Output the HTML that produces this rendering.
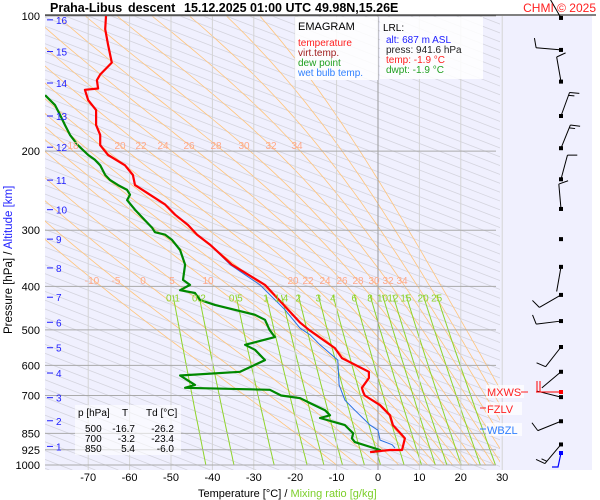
<!DOCTYPE html>
<html><head><meta charset="utf-8"><style>
html,body{margin:0;padding:0;background:#fff;}
svg{display:block;font-family:"Liberation Sans",sans-serif;}
</style></head><body>
<svg id="chart" width="600" height="500" viewBox="0 0 600 500">
<defs><clipPath id="plotclip"><rect x="45" y="16" width="455" height="454"/></clipPath></defs>
<rect x="45" y="16" width="547" height="454" fill="#f0f0fe"/>
<g id="bg" clip-path="url(#plotclip)"></g>
<g id="grid"></g>
<g id="series" clip-path="url(#plotclip)"></g>
<g id="labels"></g>
<g id="winds"></g>
<line x1="45" y1="15" x2="596" y2="15" stroke="#000" stroke-width="1"/>
<g font-size="12.5" font-weight="bold">
<text x="50" y="12">Praha-Libus</text>
<text x="128" y="12">descent</text>
<text x="184" y="12">15.12.2025 01:00 UTC</text>
<text x="315" y="12">49.98N,15.26E</text>
</g>
<text x="596" y="12" font-size="12" fill="#ff2020" text-anchor="end">CHMI © 2025</text>
<g>
<rect x="295" y="17" width="83" height="63" fill="#fff" fill-opacity="0.85"/>
<text x="298" y="30" font-size="11">EMAGRAM</text>
<text x="298" y="46" font-size="10" fill="#ff2020">temperature</text>
<text x="298" y="56" font-size="10" fill="#a02020">virt.temp.</text>
<text x="298" y="66" font-size="10" fill="#20a020">dew point</text>
<text x="298" y="76" font-size="10" fill="#3080ff">wet bulb temp.</text>
</g>
<g>
<rect x="380" y="17" width="103" height="62" fill="#fff" fill-opacity="0.85"/>
<text x="383" y="31" font-size="10">LRL:</text>
<text x="386" y="43" font-size="10" fill="#2020ff">alt: 687 m ASL</text>
<text x="386" y="53" font-size="10" fill="#222">press: 941.6 hPa</text>
<text x="386" y="63" font-size="10" fill="#ff2020">temp: -1.9 °C</text>
<text x="386" y="73" font-size="10" fill="#20a020">dwpt: -1.9 °C</text>
</g>
<g font-size="10">
<rect x="75" y="405" width="106" height="50" fill="#fff" fill-opacity="0.6"/>
<text x="78" y="416">p [hPa]</text><text x="122" y="416">T</text><text x="146" y="416">Td [°C]</text>
<text x="85" y="432">500</text><text x="135" y="432" text-anchor="end">-16.7</text><text x="174" y="432" text-anchor="end">-26.2</text>
<text x="85" y="442">700</text><text x="135" y="442" text-anchor="end">-3.2</text><text x="174" y="442" text-anchor="end">-23.4</text>
<text x="85" y="452">850</text><text x="135" y="452" text-anchor="end">5.4</text><text x="174" y="452" text-anchor="end">-6.0</text>
</g>
<g>
<rect x="486" y="385" width="38" height="13" fill="#fff" fill-opacity="0.7"/>
<text x="487" y="396" font-size="11" fill="#ff2020">MXWS</text>
<line x1="521" y1="392" x2="528" y2="392" stroke="#ff2020"/>
<rect x="486" y="402" width="36" height="13" fill="#fff" fill-opacity="0.7"/>
<line x1="480" y1="408" x2="486" y2="408" stroke="#ff2020"/>
<text x="487" y="413" font-size="11" fill="#ff2020">FZLV</text>
<rect x="486" y="423" width="36" height="13" fill="#fff" fill-opacity="0.7"/>
<line x1="480" y1="429" x2="486" y2="429" stroke="#3080ff"/>
<text x="487" y="434" font-size="11" fill="#3080ff">WBZL</text>
</g>
<text x="198" y="497" font-size="11">Temperature [°C]  /  <tspan fill="#7ccf2a">Mixing ratio [g/kg]</tspan></text>
<text transform="translate(12,334) rotate(-90)" font-size="11.5">Pressure [hPa]  /  <tspan fill="#2020ff">Altitude [km]</tspan></text>
</svg>
<script>
// ---- data ----
const tempP = [100,107,116,127,135,139,145,146,154,162,175,184,194,204,215,226,238,250,263,277,292,307,323,358,397,482,500,549,578,620,640,673,687,700,736,775,815,850,872,912,926,926,936];
const tempT = [-65.7,-65.9,-65.2,-64.3,-67.1,-67.9,-67.6,-70.8,-70,-68.1,-68.1,-67.1,-67.1,-65.2,-61.1,-59.2,-58.7,-55.1,-51.4,-49,-45.9,-43.7,-40.6,-35.3,-27.3,-18.8,-16.7,-10.4,-8.7,-2.2,-2.2,-3.9,-3.6,-3.2,0.5,2.9,3.6,5.4,6.5,6,5.8,2.9,-1.9];
const dewP = [150,154,158,166,175,184,194,204,209,215,226,232,238,244,250,257,270,285,296,303,307,315,332,358,387,397,408,414,429,440,463,475,500,519,540,554,584,620,632,663,673,680,700,710,728,755,775,786,815,850,872,889,926,936];
const dewT = [-80.4,-79.2,-78,-76.8,-75.6,-74.4,-72.5,-70,-68.4,-67.1,-65.9,-64.7,-62.8,-60.6,-59.9,-60.6,-58.7,-56.3,-54.6,-53.9,-51.4,-49.8,-47.8,-46.6,-47.1,-45.4,-47.8,-44.2,-43,-39.4,-29.7,-27.3,-26.2,-24.9,-32.1,-29.7,-27.3,-33.3,-47.8,-44.2,-46.6,-26.1,-23.4,-18.8,-16.4,-12.8,-11.6,-14,-8,-6,-6.3,-5.6,0.5,-1.4];
const wbP = [307,323,358,397,451,496,513,540,584,663,717,755,815,837,880,901,917];
const wbT = [-43.7,-40.6,-35.7,-28.5,-22.5,-18.8,-16.4,-14,-9.7,-9.4,-8,-5.6,-1.9,0,0.5,3.4,4.1];
const pressureTicks = [100,200,300,400,500,600,700,850,925,1000];
const tempTicks = [-70,-60,-50,-40,-30,-20,-10,0,10,20,30];
const altTicks = [16,15,14,13,12,11,10,9,8,7,6,5,4,3,2,1];
const altP = [102,120,141,167,196,232,270,314,364,423,481,548,624,708,797,909];
const mixRatios = [0.1,0.2,0.5,1,1.4,2,3,4,6,8,10,12,15,20,25];
const moistThetaW = [-10,-5,0,5,10,12,14,16,18,20,22,24,26,28,30,32,34,36,38,40];
const windP = [101,119,140,167,197,231,269,314,362,418,478,546,620,706,799,900];
const windDir = [330,275,350,20,22,15,355,0,190,240,263,218,230,284,248,220];
const windBarbs = [1,1,1,1.5,1.5,1,1,0,0,1,1,1,0,0,1,1.5];

// ---- axes ----
const X = t => 378 + t*4.14;
const Y = p => 16 + 195*Math.log(p/100);
const NS = 'http://www.w3.org/2000/svg';
function mk(tag, attrs, parent){const e=document.createElementNS(NS,tag);for(const k in attrs)e.setAttribute(k,attrs[k]);parent.appendChild(e);return e;}
const bg=document.getElementById('bg'), grid=document.getElementById('grid'), series=document.getElementById('series'), labels=document.getElementById('labels'), winds=document.getElementById('winds');

// background diagonal guide lines (gray)
for(let x0=-1200; x0<=520; x0+=23){
  const e=mk('line',{x1:x0,y1:16,x2:x0+2.6*454,y2:470,stroke:'#d4d4de','stroke-width':0.8},bg);
  
  
}
// moist adiabats
function es(tc){return 6.112*Math.exp(17.67*tc/(tc+243.5));}
moistThetaW.forEach(t0=>{
  let T=t0+273.15, d='';
  for(let p=1000;p>=100;p-=5){
    d+=(d?'L':'M')+X(T-273.15).toFixed(1)+','+Y(p).toFixed(1);
    const e=es(T-273.15), rs=0.622*e/(p-e);
    const dTdp=(287*T+2.5e6*rs)/(1005+2.5e6*2.5e6*rs*0.622/(287*T*T))/p;
    T-=dTdp*5;
  }
  const el=mk('path',{d:d,fill:'none',stroke:'#ffc47a','stroke-width':0.8},bg);
  
  
});
// mixing ratio lines
mixRatios.forEach(w=>{
  let d='';
  for(let p=418;p<=1000;p+=20){const e=w*p/(622+w);const l=Math.log(e/6.112);const t=243.5*l/(17.67-l);d+=(d?'L':'M')+X(t).toFixed(1)+','+Y(p).toFixed(1);}
  const el=mk('path',{d:d,fill:'none',stroke:'#8fd42a','stroke-width':1},bg);
  
  
  const e=w*418/(622+w);const l=Math.log(e/6.112);const t=243.5*l/(17.67-l);
  const tx=mk('text',{x:X(t),y:Y(400)+15,'font-size':10,fill:'#8fd42a','text-anchor':'middle'},labels);
  tx.textContent=String(w);
  
  
});
// moist adiabat labels (approximate positions)
const maLab1=[['-10',92],['-5',116],['0',143],['5',172],['10',208],['20',293],['22',308],['24',325],['26',342],['28',358],['30',374],['32',388],['34',402]];
maLab1.forEach(a=>{const t=mk('text',{x:a[1],y:284,'font-size':10,fill:'#ffa888','text-anchor':'middle'},labels);t.textContent=a[0];
  
  });
const maLab2=[['18',73],['20',120],['22',141],['24',163],['26',189],['28',216],['30',244],['32',271],['34',297]];
maLab2.forEach(a=>{const t=mk('text',{x:a[1],y:149,'font-size':10,fill:'#ffa888','text-anchor':'middle'},labels);t.textContent=a[0];
  
  });

// vertical temperature grid + ticks
tempTicks.forEach(t=>{
  const l=mk('line',{x1:X(t),y1:16,x2:X(t),y2:470,stroke:t===0?'#999':'#d4d4d4','stroke-width':1},grid);
  
  
  const tx=mk('text',{x:X(t),y:481,'font-size':11,'text-anchor':'middle'},labels);tx.textContent=String(t);
  
  
});
// pressure grid + ticks
pressureTicks.forEach(p=>{
  const l=mk('line',{x1:45,y1:Y(p),x2:496,y2:Y(p),stroke:'#aaa','stroke-width':1},grid);
  
  
  const tx=mk('text',{x:40,y:Y(p)+4,'font-size':11,'text-anchor':'end'},labels);tx.textContent=String(p);
  
  
});
altTicks.forEach((a,i)=>{
  const y=Y(altP[i]);
  const l=mk('line',{x1:47,y1:y,x2:53,y2:y,stroke:'#2020ff','stroke-width':1},labels);
  
  
  const tx=mk('text',{x:56,y:y+4,'font-size':10,fill:'#2020ff'},labels);tx.textContent=String(a);
  
  
});

// profiles
function line(P,T,color,w,name){
  const d=P.map((p,i)=>(i?'L':'M')+X(T[i]).toFixed(1)+','+Y(p).toFixed(1)).join('');
  const e=mk('path',{d:d,fill:'none',stroke:color,'stroke-width':w,'stroke-linejoin':'round'},series);
  
  
}
line(dewP,dewT,'#008800',2.2,'dew-point-line');
line(wbP,wbT,'#2a70e0',1,'wet-bulb-line');
line(tempP,tempT,'#ff0000',2.2,'temperature-line');

// wind barbs
windP.forEach((p,i)=>{
  const y=Y(p), x=561, L=25, a=windDir[i]*Math.PI/180;
  const dx=Math.sin(a), dy=-Math.cos(a);
  const g=mk('g',{},winds);
  
  
  const ex=x+L*dx, ey=y+L*dy;
  if(i!==7){
    mk('line',{x1:x,y1:y,x2:ex,y2:ey,stroke:'#000','stroke-width':1},g);
  }
  if(windBarbs[i]>0){
    const bx=-dy, by=dx;
    mk('line',{x1:ex,y1:ey,x2:ex+10*(bx*0.95+dx*0.25),y2:ey+10*(by*0.95+dy*0.25),stroke:'#000','stroke-width':1},g);
    if(windBarbs[i]>1){const mx=x+(L-3)*dx,my=y+(L-3)*dy;mk('line',{x1:mx,y1:my,x2:mx+6*(bx*0.95+dx*0.25),y2:my+6*(by*0.95+dy*0.25),stroke:'#000','stroke-width':1},g);}
  }
  mk('rect',{x:x-2,y:y-2,width:4,height:4,fill:'#000'},g);
});
// surface wind (blue) and MXWS marker
mk('path',{d:'M561,453 L558,467 L552,467',fill:'none',stroke:'#0000ff','stroke-width':1.2},winds);
mk('rect',{x:559,y:451,width:4,height:4,fill:'#0000ff'},winds);
mk('line',{x1:536,y1:392,x2:561,y2:392,stroke:'#ff0000','stroke-width':1},winds);
mk('rect',{x:559,y:390,width:4,height:4,fill:'#ff0000'},winds);
mk('path',{d:'M537,392 L537,381 M540,392 L540,381',fill:'none',stroke:'#ff0000','stroke-width':1},winds);
</script>
</body></html>
